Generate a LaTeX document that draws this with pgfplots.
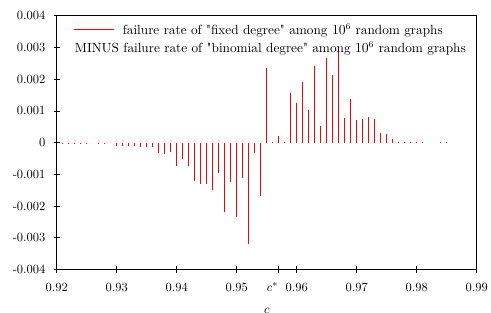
\documentclass[border=0pt]{standalone}
\usepackage{pgfplots}
\pgfplotsset{compat=1.18}
\font\qfont="[lmroman10-regular]" at 10.6pt
\newcommand\dq{{\qfont\char"22}}
\begin{document}
\begin{tikzpicture}
\begin{axis}[
  scale only axis,
  width=336pt, height=203pt,
  xmin=0.92, xmax=0.99, ymin=-0.004, ymax=0.004,
  scaled x ticks=false, scaled y ticks=false,
  xtick={0.92,0.93,0.94,0.95,0.96,0.97,0.98,0.99},
  xticklabels={0.92,0.93,0.94,0.95,0.96,0.97,0.98,0.99},
  ytick={-0.004,-0.003,-0.002,-0.001,0,0.001,0.002,0.003,0.004},
  yticklabels={-0.004,-0.003,-0.002,-0.001,0,0.001,0.002,0.003,0.004},
  xtick pos=bottom, ytick pos=left,
  tick align=center,
  major tick length=5pt,
  tick style={black, line width=0.5pt},
  axis line style={line width=0.6pt},
  xticklabel style={anchor=base, yshift=-15pt},
  yticklabel style={xshift=-3pt},
  extra x ticks={0.957},
  extra x tick labels={$c^*$},
  extra x tick style={xticklabel style={anchor=base east, xshift=3pt}},
  xlabel={$c$},
  xlabel style={yshift=-1pt},
  legend image code/.code={\draw[#1] (0pt,0pt) -- (32pt,0pt);},
  legend style={draw=none, fill=none, font=\fontsize{10.6}{12.7}\selectfont, at={(axis description cs:0,1)}, anchor=north west, xshift=10pt, yshift=-2pt, row sep=1pt},
  legend cell align=left,
]
\addplot[red, line width=0.9pt, ycomb, forget plot] coordinates {
(0.921,-0.00001) (0.922,-0.00001) (0.923,-0.00001) (0.924,-0.00001) (0.925,-0.00001)
(0.927,-0.00001) (0.928,-0.00001)
(0.930,-0.00010) (0.931,-0.00010) (0.932,-0.00010) (0.933,-0.00011) (0.934,-0.00015)
(0.935,-0.00013) (0.936,-0.00013) (0.937,-0.00034) (0.938,-0.00035) (0.939,-0.00031)
(0.940,-0.00075) (0.941,-0.00053) (0.942,-0.00073) (0.943,-0.00122) (0.944,-0.00131)
(0.945,-0.00129) (0.946,-0.00148) (0.947,-0.00096) (0.948,-0.00218) (0.949,-0.00125)
(0.950,-0.00234) (0.951,-0.00110) (0.952,-0.00321) (0.953,-0.00034) (0.954,-0.00169)
(0.955,0.00234) (0.956,0.00003) (0.957,0.00022) (0.958,0.00003) (0.959,0.00156)
(0.960,0.00126) (0.961,0.00190) (0.962,0.00103) (0.963,0.00240) (0.964,0.00051)
(0.965,0.00266) (0.966,0.00213) (0.967,0.00292) (0.968,0.00078) (0.969,0.00137)
(0.970,0.00071) (0.971,0.00075) (0.972,0.00080) (0.973,0.00075) (0.974,0.00030)
(0.975,0.00026) (0.976,0.00011) (0.977,0.00001) (0.978,0.00001) (0.979,0.00002)
(0.980,0.00001) (0.981,0.00001) (0.984,0.00001) (0.985,0.00001)
};
\addlegendimage{red, line width=0.7pt}
\addlegendentry{\hspace*{5pt}failure rate of \dq fixed degree\dq{} among $10^6$ random graphs}
\addlegendimage{empty legend}
\addlegendentry{\hspace*{-33.4pt}MINUS failure rate of \dq binomial degree\dq{} among $10^6$ random graphs}
\end{axis}
\pgfresetboundingbox
\path ([xshift=-45.4pt,yshift=-34.2pt]current axis.south west) rectangle ([xshift=11.4pt,yshift=12.6pt]current axis.north east);
\end{tikzpicture}
\end{document}
